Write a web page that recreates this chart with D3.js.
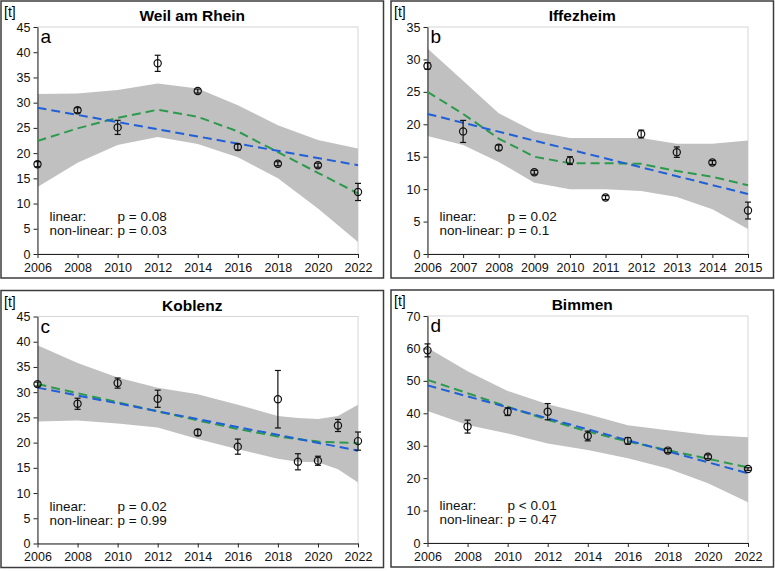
<!DOCTYPE html>
<html>
<head>
<meta charset="utf-8">
<script src="https://cdn.jsdelivr.net/npm/d3@7"></script>
<style>
  body { margin: 0; background: #fff; }
  svg { display: block; font-family: "Liberation Sans", Arial, sans-serif; }
</style>
</head>
<body>
<div id="chart"></div>
<script>
// panel a - Weil am Rhein
var yearsA = [2006, 2008, 2010, 2012, 2014, 2016, 2018, 2020, 2022];
var obsA = [17.8, 28.5, 25.1, 37.8, 32.3, 21.2, 17.9, 17.6, 12.3];
var errA = [0.5, 0.5, 1.4, 1.6, 0.4, 0.6, 0.4, 0.4, 1.7];
var linA = [29.0, 17.6];
var nlA = [22.4, 24.9, 27.0, 28.6, 27.2, 24.3, 20.2, 16.1, 12.0];
var hiA = [31.7, 31.8, 32.5, 33.8, 32.8, 29.5, 25.5, 22.6, 20.9];
var loA = [13.3, 18.1, 21.6, 23.2, 21.8, 19.2, 15.0, 9.0, 2.4];

// panel b - Iffezheim
var yearsB = [2006, 2007, 2008, 2009, 2010, 2011, 2012, 2013, 2014, 2015];
var obsB = [29.0, 18.9, 16.4, 12.6, 14.4, 8.7, 18.5, 15.7, 14.1, 6.7];
var errB = [0.5, 1.7, 0.4, 0.3, 0.6, 0.3, 0.6, 0.8, 0.3, 1.3];
var linB = [21.6, 9.25];
var nlB = [25.0, 21.6, 17.8, 15.0, 14.0, 14.0, 13.9, 12.8, 11.9, 10.6];
var hiB = [31.7, 26.7, 21.7, 18.9, 17.9, 17.9, 17.9, 17.0, 17.0, 17.5];
var loB = [18.2, 16.8, 14.2, 11.0, 10.0, 10.0, 9.7, 8.8, 6.9, 3.85];

// panel c - Koblenz
var yearsC = [2006, 2008, 2010, 2012, 2014, 2016, 2018, 2019, 2020, 2021, 2022];
var obsC = [31.6, 27.7, 31.8, 28.7, 22.0, 19.2, 28.6, 16.2, 16.4, 23.4, 20.3];
var errC = [0.4, 1.1, 1.0, 1.7, 0.6, 1.5, 5.7, 1.6, 0.9, 1.2, 1.8];
var linC = [30.9, 18.4];
var nlYearsC = [2006, 2008, 2010, 2012, 2014, 2016, 2018, 2020, 2022];
var nlC = [31.6, 29.8, 28.0, 26.2, 24.4, 22.7, 21.2, 20.2, 19.9];
var hiC = [39.3, 35.8, 32.9, 30.9, 29.6, 27.5, 25.3, 24.9, 24.7, 25.3, 27.5];
var loC = [24.2, 24.4, 23.8, 23.0, 20.7, 18.7, 16.8, 16.2, 16.1, 14.7, 12.1];

// panel d - Bimmen
var yearsD = [2006, 2008, 2010, 2012, 2014, 2016, 2018, 2020, 2022];
var obsD = [59.4, 35.9, 40.5, 40.5, 33.0, 31.5, 28.5, 26.6, 22.8];
var errD = [2.0, 2.0, 1.2, 2.5, 1.5, 1.0, 0.6, 0.6, 0.4];
var linD = [48.6, 21.5];
var nlD = [50.3, 46.2, 42.0, 38.0, 34.4, 31.3, 28.6, 26.0, 23.3];
var hiD = [60.2, 53.0, 46.9, 42.8, 39.7, 36.3, 34.8, 33.3, 32.6];
var loD = [40.7, 36.4, 33.8, 30.7, 28.7, 26.1, 23.0, 18.4, 12.6];

var titles = ["Weil am Rhein", "Iffezheim", "Koblenz", "Bimmen"];
var letters = ["a", "b", "c", "d"];
var pLinear = ["p = 0.08", "p = 0.02", "p = 0.02", "p < 0.01"];
var pNonLinear = ["p = 0.03", "p = 0.1", "p = 0.99", "p = 0.47"];

var W = 775, H = 571;
var svg = d3.select("#chart").append("svg").attr("width", W).attr("height", H);

var panels = [
  {x: 1, y: 1, years: yearsA, obs: obsA, err: errA, lin: linA, nlYears: yearsA, nl: nlA, bandYears: yearsA, hi: hiA, lo: loA,
   xTicks: d3.range(2006, 2023, 2), yMax: 45, yStep: 5},
  {x: 391, y: 1, years: yearsB, obs: obsB, err: errB, lin: linB, nlYears: yearsB, nl: nlB, bandYears: yearsB, hi: hiB, lo: loB,
   xTicks: d3.range(2006, 2016, 1), yMax: 35, yStep: 5},
  {x: 1, y: 290.5, years: yearsC, obs: obsC, err: errC, lin: linC, nlYears: nlYearsC, nl: nlC, bandYears: yearsC, hi: hiC, lo: loC,
   xTicks: d3.range(2006, 2023, 2), yMax: 45, yStep: 5},
  {x: 391, y: 290, years: yearsD, obs: obsD, err: errD, lin: linD, nlYears: yearsD, nl: nlD, bandYears: yearsD, hi: hiD, lo: loD,
   xTicks: d3.range(2006, 2023, 2), yMax: 70, yStep: 10}
];

var boxW = 382.5, boxH = 277;
var plotL = 36.5, plotT = 26, plotW = 320.5, plotH = 227;

panels.forEach(function(p, i) {
  var g = svg.append("g").attr("transform", "translate(" + p.x + "," + p.y + ")");

  g.append("rect")
    .attr("width", boxW).attr("height", boxH)
    .attr("fill", "none").attr("stroke", "#3c3c3c").attr("stroke-width", 1.5);

  g.append("text")
    .attr("x", boxW / 2).attr("y", 20)
    .attr("text-anchor", "middle")
    .attr("font-size", "15.5px").attr("font-weight", "bold")
    .text(titles[i]);

  g.append("text")
    .attr("x", 3).attr("y", 16)
    .attr("font-size", "14px")
    .text("[t]");

  var xMin = p.xTicks[0], xMax = p.xTicks[p.xTicks.length - 1];
  var x = d3.scaleLinear().domain([xMin, xMax]).range([0, plotW]);
  var y = d3.scaleLinear().domain([0, p.yMax]).range([plotH, 0]);

  var plot = g.append("g").attr("transform", "translate(" + plotL + "," + plotT + ")");

  // faint plot area frame
  plot.append("rect")
    .attr("width", plotW).attr("height", plotH)
    .attr("fill", "none").attr("stroke", "#d6d6d6").attr("stroke-width", 1);

  // confidence band
  var band = p.bandYears.map(function(yr, k) { return {yr: yr, hi: p.hi[k], lo: p.lo[k]}; });
  plot.append("path")
    .datum(band)
    .attr("fill", "#c0c0c0")
    .attr("d", d3.area()
      .x(function(d) { return x(d.yr); })
      .y0(function(d) { return y(d.lo); })
      .y1(function(d) { return y(d.hi); }));

  // axes
  var yAxis = d3.axisLeft(y)
    .tickValues(d3.range(0, p.yMax + 0.1, p.yStep))
    .tickSize(4).tickSizeOuter(0).tickPadding(3);
  var yg = plot.append("g").call(yAxis);
  var xAxis = d3.axisBottom(x)
    .tickValues(p.xTicks)
    .tickFormat(d3.format("d"))
    .tickSize(4).tickSizeOuter(0).tickPadding(5);
  var xg = plot.append("g").attr("transform", "translate(0," + plotH + ")").call(xAxis);
  [xg, yg].forEach(function(ax) {
    ax.selectAll("text").attr("font-size", "12.5px").attr("fill", "#111")
      .attr("font-family", "'Liberation Sans', Arial, sans-serif");
    ax.selectAll("line, path").attr("stroke", "#222");
  });

  // linear fit (blue) and non-linear fit (green)
  var line = d3.line().x(function(d) { return x(d[0]); }).y(function(d) { return y(d[1]); });
  var nlPts = p.nlYears.map(function(yr, k) { return [yr, p.nl[k]]; });
  plot.append("path")
    .datum(nlPts)
    .attr("fill", "none").attr("stroke", "#2c9a4c").attr("stroke-width", 2)
    .attr("stroke-dasharray", "9,5")
    .attr("d", line);
  plot.append("path")
    .datum([[xMin, p.lin[0]], [xMax, p.lin[1]]])
    .attr("fill", "none").attr("stroke", "#1f5fd8").attr("stroke-width", 2)
    .attr("stroke-dasharray", "9,5")
    .attr("d", line);

  // observations with error bars
  var pts = p.years.map(function(yr, k) { return {yr: yr, v: p.obs[k], e: p.err[k]}; });
  var pg = plot.selectAll(".pt").data(pts).enter().append("g");
  pg.append("line")
    .attr("x1", function(d) { return x(d.yr); }).attr("x2", function(d) { return x(d.yr); })
    .attr("y1", function(d) { return y(d.v - d.e); }).attr("y2", function(d) { return y(d.v + d.e); })
    .attr("stroke", "#111").attr("stroke-width", 1.2);
  [-1, 1].forEach(function(s) {
    pg.append("line")
      .attr("x1", function(d) { return x(d.yr) - 3; }).attr("x2", function(d) { return x(d.yr) + 3; })
      .attr("y1", function(d) { return y(d.v + s * d.e); }).attr("y2", function(d) { return y(d.v + s * d.e); })
      .attr("stroke", "#111").attr("stroke-width", 1.2);
  });
  pg.append("circle")
    .attr("cx", function(d) { return x(d.yr); }).attr("cy", function(d) { return y(d.v); })
    .attr("r", 3.6)
    .attr("fill", "none").attr("stroke", "#111").attr("stroke-width", 1.2);

  // panel letter
  plot.append("text")
    .attr("x", 3).attr("y", 16)
    .attr("font-size", "19px")
    .text(letters[i]);

  // p-values
  var st = plot.append("g").attr("font-size", "13.5px").attr("fill", "#111");
  st.append("text").attr("x", 12).attr("y", plotH - 33).text("linear:");
  st.append("text").attr("x", 80).attr("y", plotH - 33).text(pLinear[i]);
  st.append("text").attr("x", 12).attr("y", plotH - 19).text("non-linear:");
  st.append("text").attr("x", 80).attr("y", plotH - 19).text(pNonLinear[i]);
});
</script>
</body>
</html>
